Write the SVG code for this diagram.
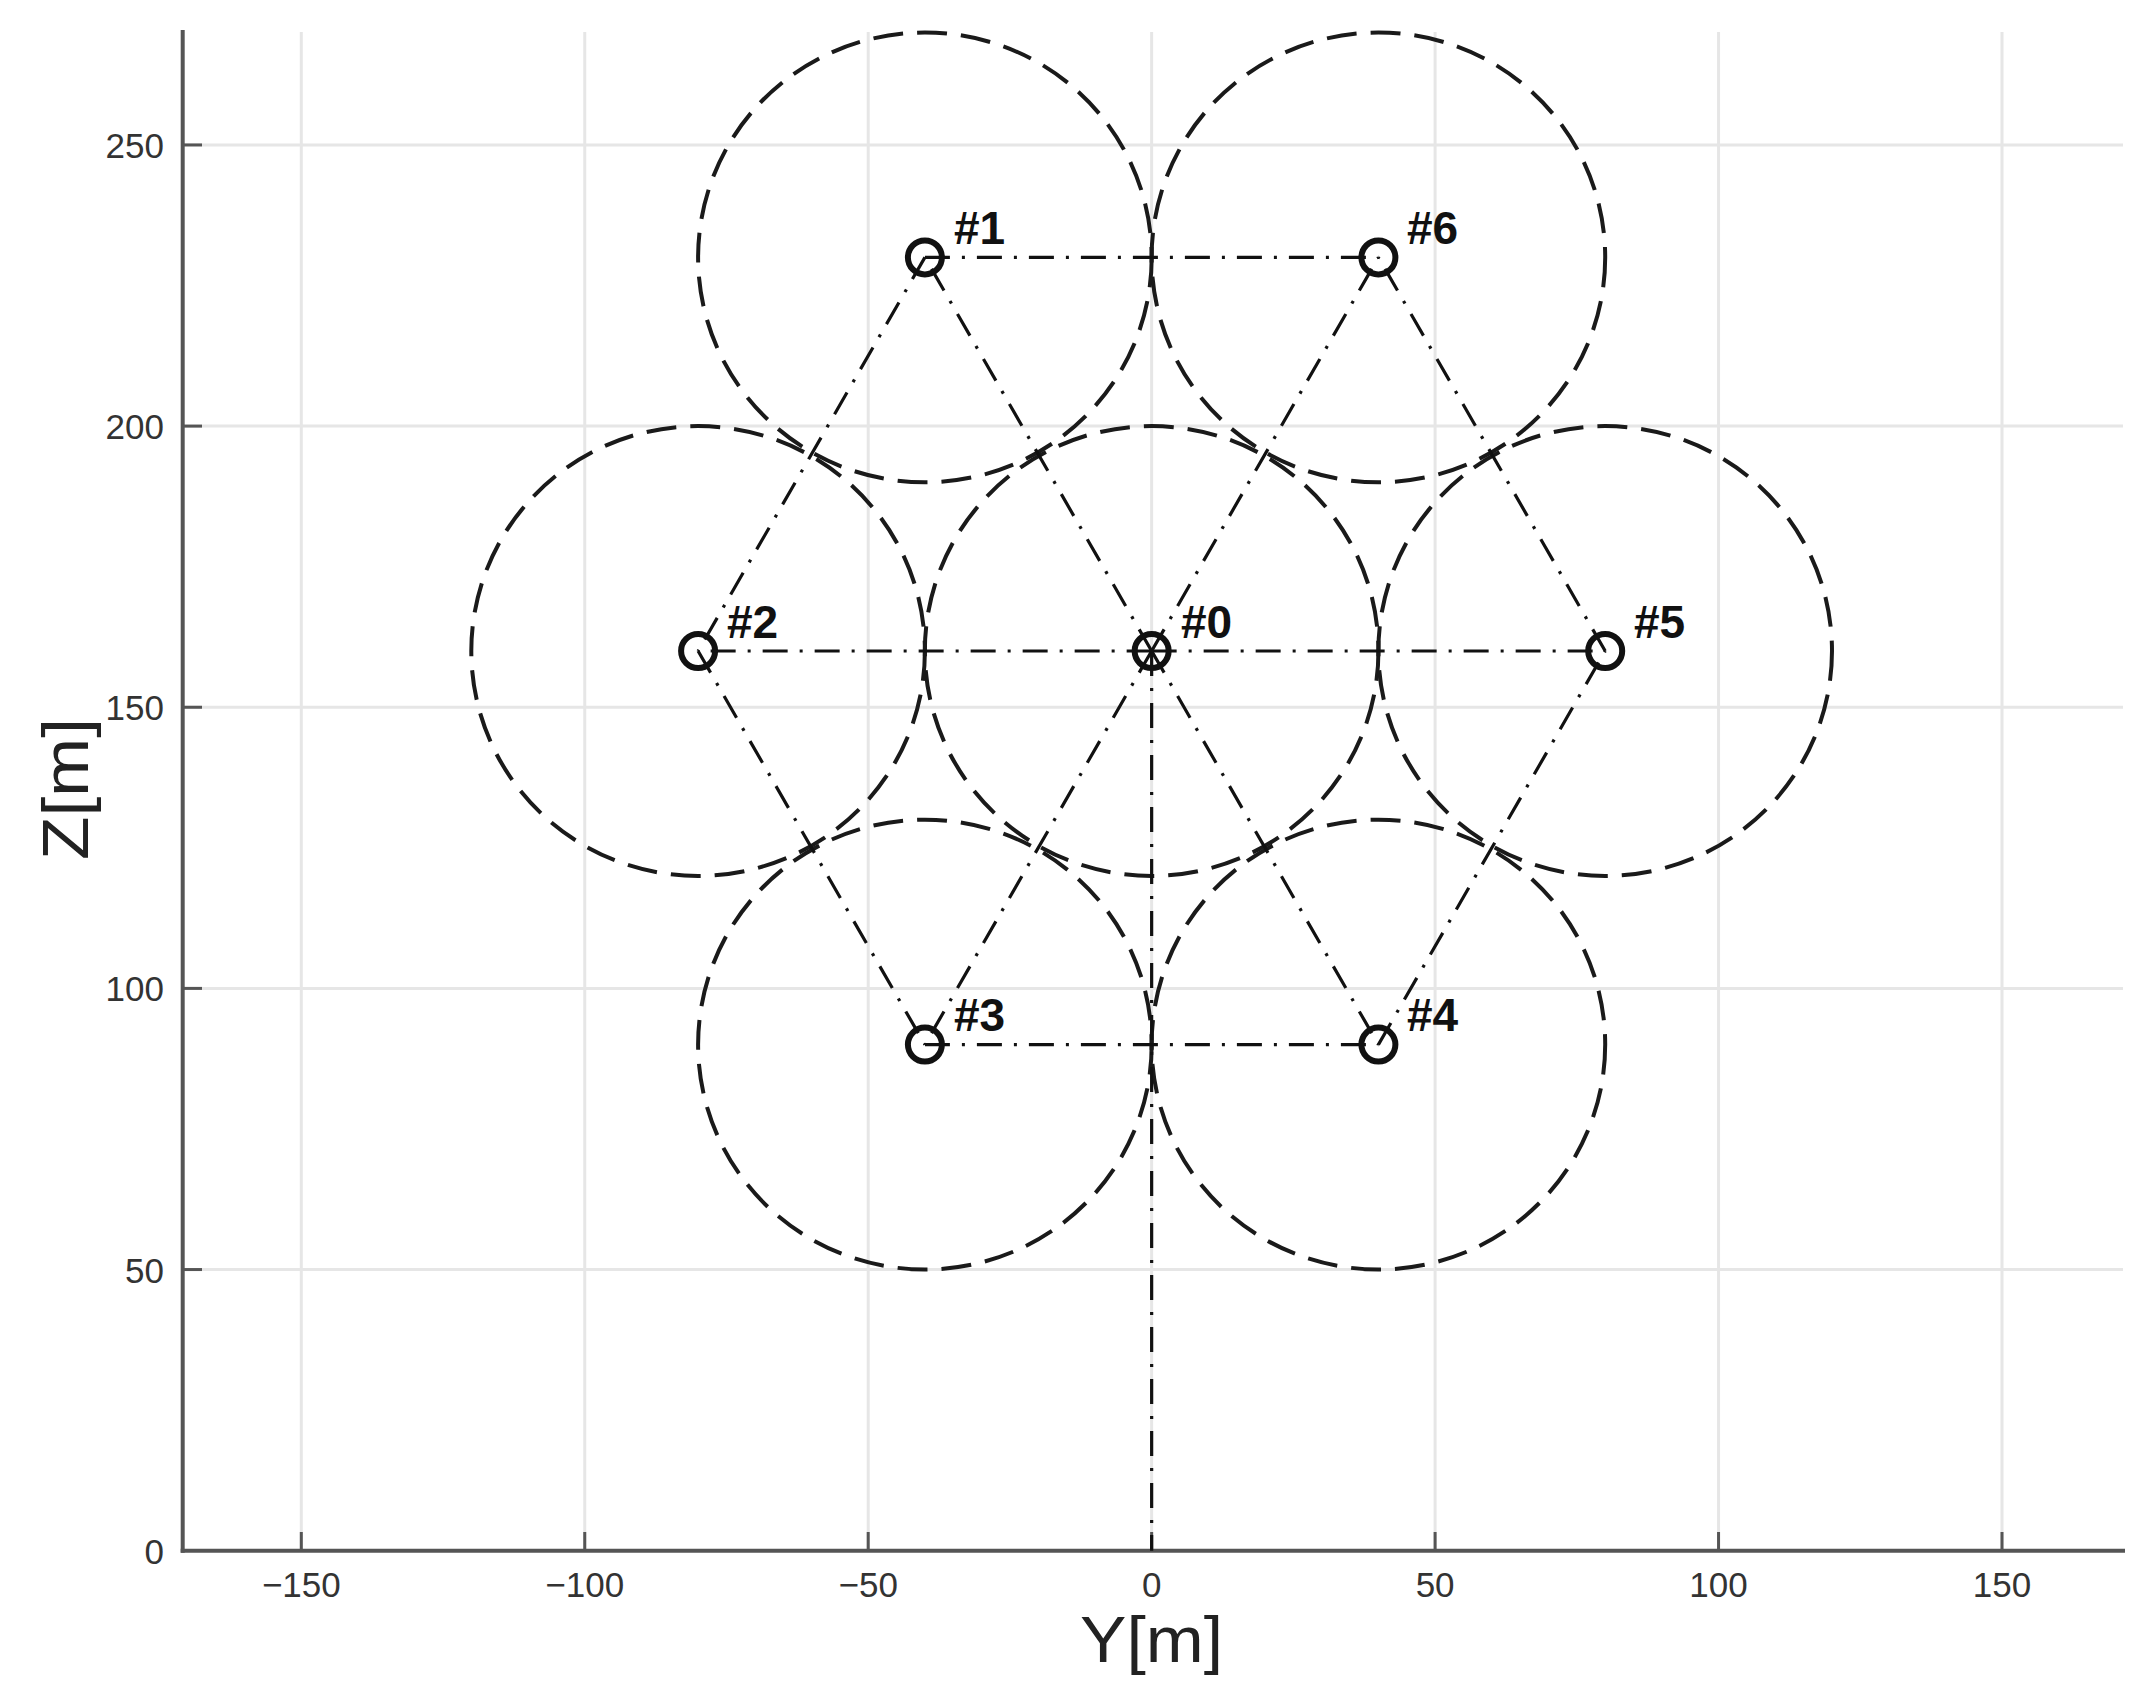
<svg xmlns="http://www.w3.org/2000/svg" width="2150" height="1697" viewBox="0 0 2150 1697">
<style>
.grid{stroke:#e6e6e6;stroke-width:3;fill:none}
.axis{stroke:#555;stroke-width:4;fill:none;stroke-linecap:square}
.tick{stroke:#555;stroke-width:3}
.tl{font-family:"Liberation Sans",Arial,sans-serif;font-size:35px;fill:#333}
.al{font-family:"Liberation Sans",Arial,sans-serif;font-size:64px;fill:#222}
.cov{fill:none;stroke:#1a1a1a;stroke-width:4;stroke-dasharray:30 14}
.link{stroke:#111;stroke-width:3.2;stroke-dasharray:25 12 3 12;fill:none}
.mk{fill:none;stroke:#111;stroke-width:6}
.nl{font-family:"Liberation Sans",Arial,sans-serif;font-weight:bold;font-size:46px;fill:#111}
</style>
<rect width="2150" height="1697" fill="#fff"/>
<g id="grid">
<line class="grid" x1="301.3" y1="32" x2="301.3" y2="1550.7"/>
<line class="grid" x1="584.75" y1="32" x2="584.75" y2="1550.7"/>
<line class="grid" x1="868.2" y1="32" x2="868.2" y2="1550.7"/>
<line class="grid" x1="1151.65" y1="32" x2="1151.65" y2="1550.7"/>
<line class="grid" x1="1435.1" y1="32" x2="1435.1" y2="1550.7"/>
<line class="grid" x1="1718.55" y1="32" x2="1718.55" y2="1550.7"/>
<line class="grid" x1="2002" y1="32" x2="2002" y2="1550.7"/>
<line class="grid" x1="182.7" y1="1269.55" x2="2123" y2="1269.55"/>
<line class="grid" x1="182.7" y1="988.4" x2="2123" y2="988.4"/>
<line class="grid" x1="182.7" y1="707.25" x2="2123" y2="707.25"/>
<line class="grid" x1="182.7" y1="426.1" x2="2123" y2="426.1"/>
<line class="grid" x1="182.7" y1="144.95" x2="2123" y2="144.95"/>
</g>
<g id="axes">
<line class="axis" x1="182.7" y1="32" x2="182.7" y2="1550.7"/>
<line class="axis" x1="182.7" y1="1550.7" x2="2123" y2="1550.7"/>
<g class="tick">
<line x1="301.3" y1="1550.7" x2="301.3" y2="1532"/>
<line x1="584.75" y1="1550.7" x2="584.75" y2="1532"/>
<line x1="868.2" y1="1550.7" x2="868.2" y2="1532"/>
<line x1="1151.65" y1="1550.7" x2="1151.65" y2="1532"/>
<line x1="1435.1" y1="1550.7" x2="1435.1" y2="1532"/>
<line x1="1718.55" y1="1550.7" x2="1718.55" y2="1532"/>
<line x1="2002" y1="1550.7" x2="2002" y2="1532"/>
<line x1="182.7" y1="1269.55" x2="202" y2="1269.55"/>
<line x1="182.7" y1="988.4" x2="202" y2="988.4"/>
<line x1="182.7" y1="707.25" x2="202" y2="707.25"/>
<line x1="182.7" y1="426.1" x2="202" y2="426.1"/>
<line x1="182.7" y1="144.95" x2="202" y2="144.95"/>
</g>
<g class="tl" text-anchor="middle">
<text x="301.3" y="1597">−150</text>
<text x="584.75" y="1597">−100</text>
<text x="868.2" y="1597">−50</text>
<text x="1151.65" y="1597">0</text>
<text x="1435.1" y="1597">50</text>
<text x="1718.55" y="1597">100</text>
<text x="2002" y="1597">150</text>
</g>
<g class="tl" text-anchor="end">
<text x="164" y="1564">0</text>
<text x="164" y="1282.5">50</text>
<text x="164" y="1001.4">100</text>
<text x="164" y="720.2">150</text>
<text x="164" y="439.1">200</text>
<text x="164" y="158">250</text>
</g>
<text class="al" x="1151.5" y="1662" text-anchor="middle" textLength="143" lengthAdjust="spacingAndGlyphs">Y[m]</text>
<text class="al" transform="translate(88,789) rotate(-90)" text-anchor="middle" textLength="142" lengthAdjust="spacingAndGlyphs">Z[m]</text>
</g>
<g id="coverage">
<ellipse class="cov" cx="1151.65" cy="651" rx="226.8" ry="224.9"/>
<ellipse class="cov" cx="924.9" cy="257.4" rx="226.8" ry="224.9"/>
<ellipse class="cov" cx="698.1" cy="651" rx="226.8" ry="224.9"/>
<ellipse class="cov" cx="924.9" cy="1044.6" rx="226.8" ry="224.9"/>
<ellipse class="cov" cx="1378.4" cy="1044.6" rx="226.8" ry="224.9"/>
<ellipse class="cov" cx="1605.2" cy="651" rx="226.8" ry="224.9"/>
<ellipse class="cov" cx="1378.4" cy="257.4" rx="226.8" ry="224.9"/>
</g>
<g id="connectors">
<line class="link" x1="1151.65" y1="651" x2="924.9" y2="257.4"/>
<line class="link" x1="1151.65" y1="651" x2="698.1" y2="651"/>
<line class="link" x1="1151.65" y1="651" x2="924.9" y2="1044.6"/>
<line class="link" x1="1151.65" y1="651" x2="1378.4" y2="1044.6"/>
<line class="link" x1="1151.65" y1="651" x2="1605.2" y2="651"/>
<line class="link" x1="1151.65" y1="651" x2="1378.4" y2="257.4"/>
<line class="link" x1="924.9" y1="257.4" x2="1378.4" y2="257.4"/>
<line class="link" x1="924.9" y1="257.4" x2="698.1" y2="651"/>
<line class="link" x1="698.1" y1="651" x2="924.9" y2="1044.6"/>
<line class="link" x1="924.9" y1="1044.6" x2="1378.4" y2="1044.6"/>
<line class="link" x1="1378.4" y1="1044.6" x2="1605.2" y2="651"/>
<line class="link" x1="1605.2" y1="651" x2="1378.4" y2="257.4"/>
<line class="link" x1="1151.65" y1="651" x2="1151.65" y2="1550.7"/>
</g>
<g id="node0"><circle class="mk" cx="1151.65" cy="651" r="17"/><text class="nl" x="1181" y="638">#0</text></g>
<g id="node1"><circle class="mk" cx="924.9" cy="257.4" r="17"/><text class="nl" x="954" y="244">#1</text></g>
<g id="node2"><circle class="mk" cx="698.1" cy="651" r="17"/><text class="nl" x="727" y="638">#2</text></g>
<g id="node3"><circle class="mk" cx="924.9" cy="1044.6" r="17"/><text class="nl" x="954" y="1031">#3</text></g>
<g id="node4"><circle class="mk" cx="1378.4" cy="1044.6" r="17"/><text class="nl" x="1407" y="1031">#4</text></g>
<g id="node5"><circle class="mk" cx="1605.2" cy="651" r="17"/><text class="nl" x="1634" y="638">#5</text></g>
<g id="node6"><circle class="mk" cx="1378.4" cy="257.4" r="17"/><text class="nl" x="1407" y="244">#6</text></g>
</svg>
